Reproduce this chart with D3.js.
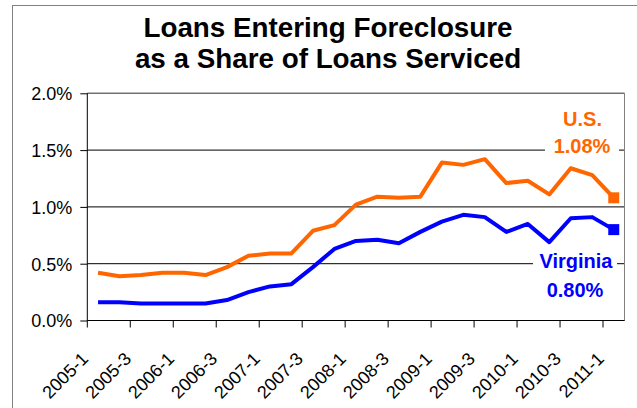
<!DOCTYPE html>
<html>
<head>
<meta charset="utf-8">
<script src="https://cdnjs.cloudflare.com/ajax/libs/d3/7.8.5/d3.min.js"></script>
<style>
body { margin: 0; background: #fff; }
text { font-family: Arial, 'Liberation Sans', sans-serif; }
</style>
</head>
<body>
<script>
const width = 637;
const height = 408;

// quarterly categories, 2005-1 .. 2011-1
const quarters = ['2005-1','2005-2','2005-3','2005-4','2006-1','2006-2','2006-3','2006-4',
                  '2007-1','2007-2','2007-3','2007-4','2008-1','2008-2','2008-3','2008-4',
                  '2009-1','2009-2','2009-3','2009-4','2010-1','2010-2','2010-3','2010-4','2011-1'];
const usShare = [0.42, 0.39, 0.40, 0.42, 0.42, 0.40, 0.47, 0.57, 0.59, 0.59, 0.79, 0.84, 1.02,
                 1.09, 1.08, 1.09, 1.39, 1.37, 1.42, 1.21, 1.23, 1.11, 1.34, 1.28, 1.08];
const vaShare = [0.16, 0.16, 0.15, 0.15, 0.15, 0.15, 0.18, 0.25, 0.30, 0.32, 0.47, 0.63, 0.70,
                 0.71, 0.68, 0.78, 0.87, 0.93, 0.91, 0.78, 0.85, 0.69, 0.90, 0.91, 0.80];
const yTicks = [0, 0.5, 1.0, 1.5, 2.0];
const titleLines = ['Loans Entering Foreclosure', 'as a Share of Loans Serviced'];

const svg = d3.select('body').append('svg').attr('width', width).attr('height', height);
const g = svg.append('g');

// outer chart border (right/bottom fall outside the picture)
g.append('rect')
	.attr('x', 12.5).attr('y', 5.5)
	.attr('width', 700).attr('height', 500)
	.style('fill', 'none')
	.style('stroke', '#808080');

const plotL = 87.3, plotR = 624.5, plotT = 93.3, plotB = 320.5;

const xs = d3.scaleBand()
	.domain(quarters)
	.range([plotL, plotR])
	.padding(0);
const band = xs.bandwidth();

const ys = d3.scaleLinear()
	.domain([0, 2.0])
	.range([plotB, plotT]);

// title
g.selectAll('.title')
	.data(titleLines)
	.enter()
	.append('text')
	.attr('class', 'title')
	.attr('x', 328)
	.attr('y', function(d, i){ return 37 + i * 30.5 })
	.attr('text-anchor', 'middle')
	.style('font-size', '27.8px')
	.style('font-weight', 'bold')
	.text(function(d){ return d });

// gridlines
g.selectAll('.grid')
	.data(yTicks)
	.enter()
	.append('line')
	.attr('class', 'grid')
	.attr('x1', plotL).attr('x2', plotR)
	.attr('y1', function(d){ return ys(d) })
	.attr('y2', function(d){ return ys(d) })
	.style('stroke', '#000')
	.style('stroke-width', 1);

// plot area border (top + right)
g.append('path')
	.attr('d', 'M' + plotL + ',' + plotT + 'H' + plotR + 'V' + plotB)
	.style('fill', 'none')
	.style('stroke', '#808080');

// y axis
const yaxis = d3.axisLeft(ys)
	.tickValues(yTicks)
	.tickSize(7)
	.tickPadding(8)
	.tickFormat(function(d){ return d3.format('.1f')(d) + '%' });
const ya = g.append('g')
	.attr('transform', 'translate(' + plotL + ',0)')
	.call(yaxis);
ya.select('.domain').remove();
ya.selectAll('line').style('stroke', '#000');
ya.selectAll('text')
	.style('font-size', '18px')
	.style('font-family', "Arial, 'Liberation Sans', sans-serif")
	.attr('dy', '0.36em')
	.style('fill', '#000');
g.append('line')
	.attr('x1', plotL).attr('x2', plotL)
	.attr('y1', plotT).attr('y2', plotB)
	.style('stroke', '#000');

// x axis: ticks every second quarter, on band edges
const labelled = quarters.filter(function(d, i){ return i % 2 == 0 });
g.append('line')
	.attr('x1', plotL).attr('x2', plotR)
	.attr('y1', plotB).attr('y2', plotB)
	.style('stroke', '#000');
g.selectAll('.xtick')
	.data(labelled)
	.enter()
	.append('line')
	.attr('class', 'xtick')
	.attr('x1', function(d){ return xs(d) })
	.attr('x2', function(d){ return xs(d) })
	.attr('y1', plotB).attr('y2', plotB + 7)
	.style('stroke', '#000');
g.selectAll('.xlab')
	.data(labelled)
	.enter()
	.append('text')
	.attr('class', 'xlab')
	.attr('transform', function(d){ return 'translate(' + (xs(d) + 2) + ',360) rotate(-45)' })
	.attr('text-anchor', 'end')
	.style('font-size', '18px')
	.text(function(d){ return d });

// lines
const line = d3.line()
	.x(function(d, i){ return xs(quarters[i]) + band / 2 })
	.y(function(d){ return ys(d) });

const series = [{vals: usShare, color: '#FF6600'}, {vals: vaShare, color: '#0000FF'}];

g.selectAll('.series')
	.data(series)
	.enter()
	.append('path')
	.attr('class', 'series')
	.attr('d', function(d){ return line(d.vals) })
	.style('fill', 'none')
	.style('stroke', function(d){ return d.color })
	.style('stroke-width', 4)
	.style('stroke-linejoin', 'round');

// end markers
const last = quarters.length - 1;
g.selectAll('.marker')
	.data(series)
	.enter()
	.append('rect')
	.attr('class', 'marker')
	.attr('x', xs(quarters[last]) + band / 2 - 5.5)
	.attr('y', function(d){ return ys(d.vals[last]) - 5.5 })
	.attr('width', 11).attr('height', 11)
	.style('fill', function(d){ return d.color });

// series labels with white boxes
g.append('rect').attr('x', 545).attr('y', 108).attr('width', 74).attr('height', 50).style('fill', '#fff');
g.append('rect').attr('x', 533).attr('y', 250).attr('width', 84).attr('height', 52).style('fill', '#fff');

const seriesLabels = [
	{t: 'U.S.', x: 582.5, y: 126, c: '#FF6600'},
	{t: d3.format('.2f')(usShare[last]) + '%', x: 582, y: 153, c: '#FF6600'},
	{t: 'Virginia', x: 576, y: 268, c: '#0000FF'},
	{t: d3.format('.2f')(vaShare[last]) + '%', x: 575, y: 297, c: '#0000FF'}
];
g.selectAll('.slab')
	.data(seriesLabels)
	.enter()
	.append('text')
	.attr('class', 'slab')
	.attr('x', function(d){ return d.x })
	.attr('y', function(d){ return d.y })
	.attr('text-anchor', 'middle')
	.style('font-size', '20px')
	.style('font-weight', 'bold')
	.style('fill', function(d){ return d.c })
	.text(function(d){ return d.t });
</script>
</body>
</html>
